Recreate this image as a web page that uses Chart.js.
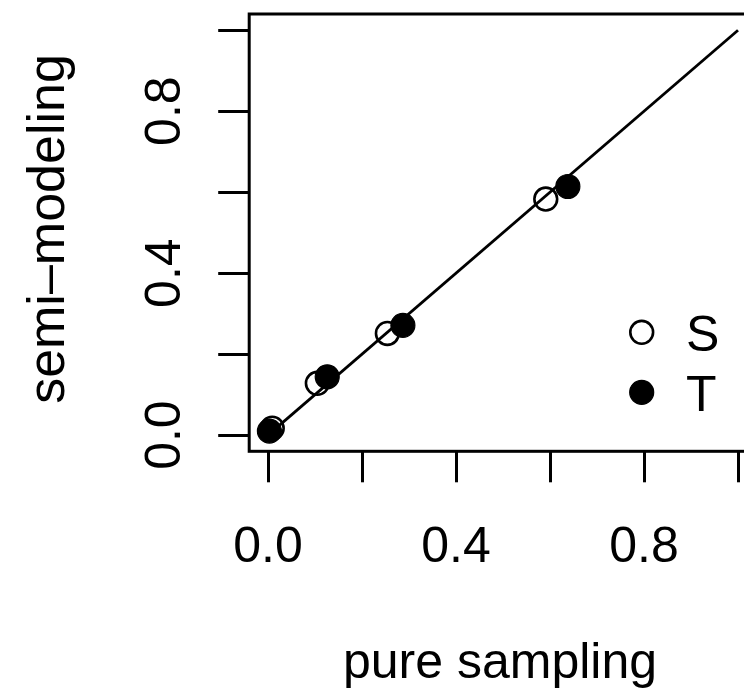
<!DOCTYPE html>
<html><head><meta charset="utf-8">
<script src="https://cdn.jsdelivr.net/npm/chart.js@4"></script>
<style>
html,body{margin:0;padding:0;background:#fff;overflow:hidden;width:744px;height:693px;}
#wrap{position:absolute;left:0;top:0;width:800px;height:693px;}
canvas{display:block;}
</style></head><body>
<div id="wrap"><canvas id="c" width="800" height="693"></canvas></div>
<script>
// ---- data ----
const seriesNames = ['S', 'T'];
const sX = [0.009, 0.105, 0.254, 0.591];
const sY = [0.017, 0.128, 0.251, 0.583];
const tX = [0.003, 0.126, 0.287, 0.638];
const tY = [0.010, 0.144, 0.271, 0.614];
const refLineX = [0, 1];
const refLineY = [0, 1];
const tickValues = [0, 0.2, 0.4, 0.6, 0.8, 1.0];
const tickLabels = ['0.0', '', '0.4', '', '0.8', ''];
const xTitle = 'pure sampling';
const yTitle = 'semi\u2013modeling';

const FONT = '"Liberation Sans", Arial, Helvetica, sans-serif';
const toPts = (xs, ys) => xs.map((x, i) => ({ x: x, y: ys[i] }));

const boxAndText = {
  id: 'boxAndText',
  afterDraw(chart) {
    const ctx = chart.ctx, a = chart.chartArea;
    const xs = chart.scales.x, ys = chart.scales.y;
    ctx.save();
    ctx.strokeStyle = '#000';
    ctx.lineWidth = 3;
    ctx.strokeRect(a.left, a.top, a.right - a.left, a.bottom - a.top);
    ctx.fillStyle = '#000';
    ctx.font = '50px ' + FONT;
    ctx.textBaseline = 'alphabetic';
    ctx.textAlign = 'center';
    xs.ticks.forEach(t => {
      const lab = tickLabels[tickValues.indexOf(t.value)];
      if (lab) ctx.fillText(lab, xs.getPixelForValue(t.value), a.bottom + 110.7);
    });
    ys.ticks.forEach(t => {
      const lab = tickLabels[tickValues.indexOf(t.value)];
      if (!lab) return;
      ctx.save();
      ctx.translate(a.left - 69.2, ys.getPixelForValue(t.value));
      ctx.rotate(-Math.PI / 2);
      ctx.fillText(lab, 0, 0);
      ctx.restore();
    });
    // axis titles
    ctx.fillText(xTitle, 500, 678);
    ctx.save();
    ctx.font = '52px ' + FONT;
    ctx.translate(64, 229);
    ctx.rotate(-Math.PI / 2);
    ctx.fillText(yTitle, 0, 0);
    ctx.restore();
    // legend (no box)
    const ds = chart.data.datasets;
    const lx = 641.7, ly = [332.3, 392.3];
    [1, 2].forEach((di, k) => {
      const d = ds[di];
      ctx.beginPath();
      ctx.arc(lx, ly[k], d.pointRadius, 0, Math.PI * 2);
      if (d.pointBackgroundColor !== 'rgba(0,0,0,0)') { ctx.fillStyle = d.pointBackgroundColor; ctx.fill(); }
      ctx.lineWidth = d.pointBorderWidth; ctx.strokeStyle = d.pointBorderColor; ctx.stroke();
      ctx.fillStyle = '#000';
      ctx.textAlign = 'left';
      ctx.fillText(d.label, 686, ly[k] + 18.2);
    });
    ctx.restore();
  }
};

const axisCommon = {
  type: 'linear', min: -0.04, max: 1.04,
  afterBuildTicks: s => { s.ticks = tickValues.map(v => ({ value: v })); },
  grid: { drawOnChartArea: false, drawTicks: true, tickLength: 31, tickWidth: 3, tickColor: '#000' },
  border: { display: false },
  ticks: { display: false }
};

new Chart(document.getElementById('c'), {
  type: 'scatter',
  data: {
    datasets: [
      { label: 'y = x', data: toPts(refLineX, refLineY), showLine: true, borderColor: '#000', borderWidth: 2.8, pointRadius: 0, fill: false },
      { label: seriesNames[0], data: toPts(sX, sY), pointStyle: 'circle', pointRadius: 11.4, pointBorderWidth: 2.6, pointBorderColor: '#000', pointBackgroundColor: 'rgba(0,0,0,0)', showLine: false },
      { label: seriesNames[1], data: toPts(tX, tY), pointStyle: 'circle', pointRadius: 12, pointBorderWidth: 1.2, pointBorderColor: '#000', pointBackgroundColor: '#000', showLine: false }
    ]
  },
  options: {
    responsive: false, animation: false, devicePixelRatio: 1,
    layout: { padding: { top: 10.3, right: 43.2, bottom: 0, left: 0 } },
    plugins: { legend: { display: false }, tooltip: { enabled: false } },
    scales: {
      x: Object.assign({}, axisCommon, { position: 'bottom', afterFit: s => { s.height = 241.7; } }),
      y: Object.assign({}, axisCommon, { position: 'left', afterFit: s => { s.width = 249.2; } })
    }
  },
  plugins: [boxAndText]
});
</script>
</body></html>
